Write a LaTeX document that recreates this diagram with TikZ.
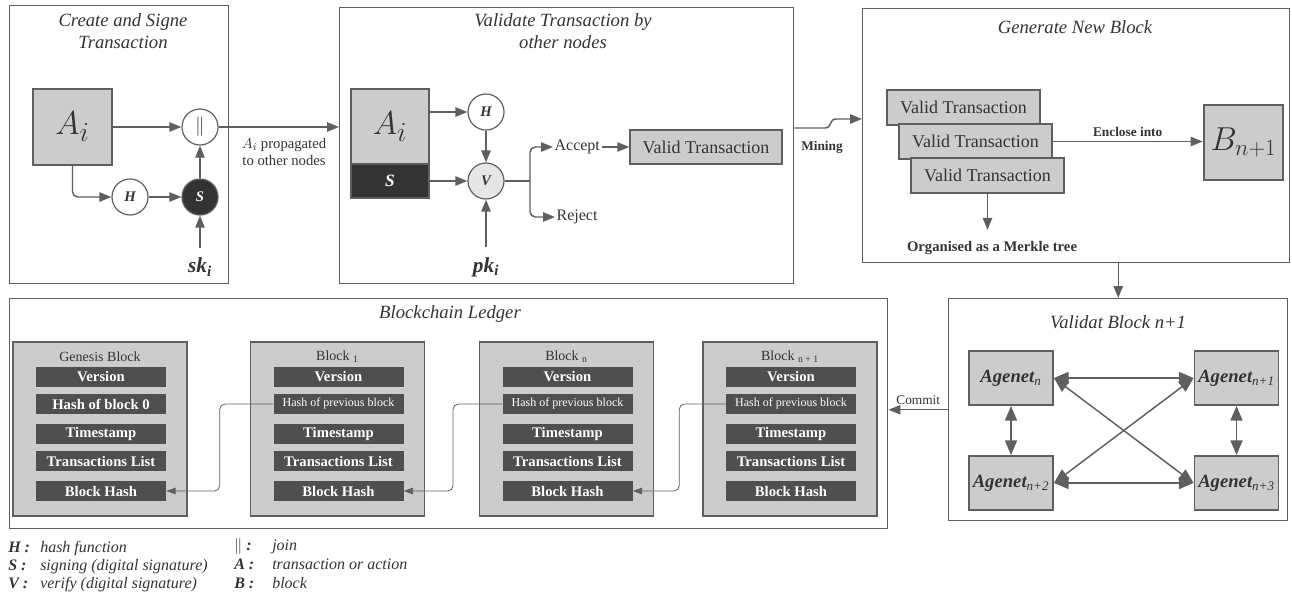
\documentclass[tikz,border=0pt]{standalone}
\usepackage{fontspec}
\setmainfont{Liberation Serif}
\usepackage{tikz}
\usetikzlibrary{calc}
\usetikzlibrary{positioning}
\usetikzlibrary{arrows.meta}

\definecolor{edgegray}{HTML}{5F5F5F}
\definecolor{boxfill}{HTML}{CCCCCC}
\definecolor{fielddark}{HTML}{4F4F4F}
\definecolor{inkdark}{HTML}{333333}
\definecolor{vfill}{HTML}{E6E6E6}

\begin{document}
\begin{tikzpicture}[x=0.75pt, y=-0.75pt,
    panel/.style={rectangle, draw=edgegray, line width=1.1pt, anchor=north west, inner sep=0pt},
    paneltitle/.style={font=\fontsize{14}{16}\selectfont\itshape, text=inkdark, align=center},
    gbox/.style={rectangle, draw=edgegray, fill=boxfill, line width=1.4pt, inner sep=0pt, text=inkdark},
    op/.style={circle, draw=edgegray, fill=white, line width=0.9pt, minimum size=27pt, inner sep=0pt, font=\fontsize{11}{12}\selectfont\bfseries\itshape, text=inkdark},
    arr/.style={draw=edgegray, line width=1.1pt, -{Triangle[length=9pt,width=7pt]}},
    link/.style={draw=edgegray, line width=0.6pt, -{Triangle[length=7pt,width=5pt]}},
    dbl/.style={draw=edgegray, line width=1.1pt, {Triangle[length=11pt,width=9pt]}-{Triangle[length=11pt,width=9pt]}},
    field/.style={rectangle, fill=fielddark, minimum width=97.5pt, minimum height=15pt, inner sep=0pt, text=white, font=\fontsize{11}{11}\selectfont\bfseries},
    agent/.style={gbox, minimum width=63pt, minimum height=40.5pt, font=\fontsize{14}{14}\selectfont\bfseries\itshape},
    vtbox/.style={gbox, line width=1pt, font=\fontsize{13.5}{14}\selectfont},
    lbl/.style={text=inkdark, font=\fontsize{10}{11}\selectfont},
    key/.style={text=inkdark, anchor=base west, inner sep=0pt, font=\fontsize{12}{13}\selectfont\bfseries\itshape},
    keyval/.style={text=inkdark, anchor=base west, inner sep=0pt, font=\fontsize{12}{13}\selectfont\itshape},
  ]
  \useasboundingbox (0,0) rectangle (1292,601);

  % panels
  \node[panel, minimum width=164.25pt, minimum height=208.5pt] (create) at (9,5) {};
  \node[panel, minimum width=340.5pt, minimum height=207pt] (validate) at (339,7) {};
  \node[panel, minimum width=320.25pt, minimum height=190.5pt] (generate) at (862,8) {};
  \node[panel, minimum width=658.5pt, minimum height=172.5pt] (ledger) at (9,298) {};
  \node[panel, minimum width=254.25pt, minimum height=166.5pt] (vblock) at (948,298) {};

  % create and sign
  \node[paneltitle] (createtitle) at (123,31) {Create and Signe\\Transaction};
  \node[gbox, minimum width=59.25pt, minimum height=57pt, font=\fontsize{30}{30}\selectfont] (ai1) at (72.5,127) {$A_i$};
  \node[op, font=\fontsize{15}{15}\selectfont] (join) at (200,127) {$\|$};
  \node[op] (hash1) at (130,197) {H};
  \node[op, fill=inkdark, text=white] (sign1) at (200,197) {S};
  \node[font=\fontsize{16}{16}\selectfont\bfseries\itshape, text=inkdark] (sk) at (200,267) {sk\textsubscript{i}};
  \draw[arr] (ai1) -- (join);
  \draw[arr, rounded corners=4pt] (ai1.south) |- (hash1);
  \draw[arr] (hash1) -- (sign1);
  \draw[arr] (sign1) -- (join);
  \draw[arr] ([yshift=4pt]sk.north) -- (sign1);
  \draw[arr] (join) -- (join -| validate.west);
  \node[lbl, font=\fontsize{11}{12.5}\selectfont, align=center] (prop) at (284,152) {$A_i$ propagated\\to other nodes};

  % validate transaction
  \node[paneltitle] (valtitle) at (563,31) {Validate Transaction by\\other nodes};
  \node[gbox, minimum width=58.5pt, minimum height=56.25pt, font=\fontsize{30}{30}\selectfont] (ai2) at (390,126.5) {$A_i$};
  \node[gbox, fill=inkdark, minimum width=58.5pt, minimum height=25.5pt, text=white, font=\fontsize{13}{13}\selectfont\bfseries\itshape] (sig2) at (390,181) {S};
  \node[op] (hash2) at (486,112) {H};
  \node[op, fill=vfill] (ver2) at (486,181) {V};
  \node[font=\fontsize{16}{16}\selectfont\bfseries\itshape, text=inkdark] (pk) at (486,267) {pk\textsubscript{i}};
  \coordinate (fork) at (530,181);
  \node[lbl, font=\fontsize{12}{13}\selectfont, anchor=west, inner sep=1pt] (acc) at (553,147) {Accept};
  \node[lbl, font=\fontsize{12}{13}\selectfont, anchor=west, inner sep=1pt] (rej) at (555,217) {Reject};
  \node[vtbox, minimum width=114pt, minimum height=25.5pt] (vt) at (706,147) {Valid Transaction};
  \draw[arr] (ai2.east |- hash2) -- (hash2);
  \draw[arr] (sig2) -- (ver2);
  \draw[arr] (hash2) -- (ver2);
  \draw[arr] ([yshift=4pt]pk.north) -- (ver2);
  \draw[edgegray, line width=1.1pt] (ver2) -- (fork);
  \draw[arr, rounded corners=4pt] (fork) |- (acc);
  \draw[arr, rounded corners=4pt] (fork) |- (rej);
  \draw[arr] (acc) -- (vt);

  % mining
  \coordinate (m1) at (825,128);
  \coordinate (m2) at (836,119);
  \draw[arr] (validate.east |- m1) -- (m1) .. controls (832,128) and (829,119) .. (m2) -- (m2 -| generate.west);
  \node[lbl, font=\fontsize{10}{11}\selectfont\bfseries] (mining) at (822,147) {Mining};

  % generate new block
  \node[paneltitle] (gentitle) at (1075,27) {Generate New Block};
  \foreach \k in {0,1,2}
    \node[vtbox, minimum width=114.75pt, minimum height=26.25pt] (vt\k) at (963.5+12*\k, 107.5+34*\k) {Valid Transaction};
  \node[gbox, line width=2pt, minimum width=59.25pt, minimum height=56.25pt, font=\fontsize{27}{27}\selectfont] (bnew) at (1243.5,142.5) {$B_{n+1}$};
  \draw[arr] (vt1.east) -- (vt1.east -| bnew.west) node[midway, above, lbl, font=\fontsize{10}{11}\selectfont\bfseries] {Enclose into};
  \node[lbl, font=\fontsize{11}{12}\selectfont\bfseries] (merkle) at (992,248) {Organised as a Merkle tree};
  \draw[arr] (vt2.south) -- ([yshift=5pt]vt2.south |- merkle.north);
  \draw[arr] (generate.south -| vblock.north) -- (vblock.north);

  % validate block n+1
  \node[paneltitle] (vbtitle) at (1118,322) {Validat Block n+1};
  \node[agent] (ag0) at (1011,378) {Agenet\textsubscript{\mdseries n}};
  \node[agent] (ag1) at (1236.5,378) {Agenet\textsubscript{\mdseries n+1}};
  \node[agent] (ag2) at (1011,483) {Agenet\textsubscript{\mdseries n+2}};
  \node[agent] (ag3) at (1236.5,483) {Agenet\textsubscript{\mdseries n+3}};
  \draw[dbl] (ag0) -- (ag1);
  \draw[dbl] (ag2) -- (ag3);
  \draw[dbl] (ag0) -- (ag2);
  \draw[dbl] (ag1) -- (ag3);
  \draw[dbl] (ag0.east) -- (ag3.west);
  \draw[dbl] (ag2.east) -- (ag1.west);
  \draw[arr] (vblock.west) -- (vblock.west -| ledger.east) node[midway, above, lbl] {Commit};

  % ledger
  \node[paneltitle] (ledgertitle) at (450,314) {Blockchain Ledger};
  \foreach \blk/\cx/\hd/\htxt in {gen/100/Genesis Block/Hash of block 0,
      b1/337.5/Block \textsubscript{1}/{\fontsize{9}{9}\selectfont\mdseries Hash of previous block},
      bn/566.5/Block \textsubscript{n}/{\fontsize{9}{9}\selectfont\mdseries Hash of previous block},
      bnn/790/Block \textsubscript{n + 1}/{\fontsize{9}{9}\selectfont\mdseries Hash of previous block}}
  {
    \node[gbox, minimum width=130.5pt, minimum height=130.5pt] (\blk) at (\cx,429) {};
    \node[lbl, font=\fontsize{10.5}{11}\selectfont] (\blk-head) at (\cx,357) {\hd};
    \foreach \f/\fy/\ftxt in {ver/377/Version, ts/434/Timestamp, tl/461/Transactions List, bh/491/Block Hash}
      \node[field] (\blk-\f) at (\cx+1,\fy) {\ftxt};
    \node[field] (\blk-ph) at (\cx+1,404) {\htxt};
  }
  \draw[link, rounded corners=4pt] (b1-ph.west) -| ($(b1-ph.west)!.5!(gen-bh.east)$) |- (gen-bh.east);
  \draw[link, rounded corners=4pt] (bn-ph.west) -| ($(bn-ph.west)!.5!(b1-bh.east)$) |- (b1-bh.east);
  \draw[link, rounded corners=4pt] (bnn-ph.west) -| ($(bnn-ph.west)!.5!(bn-bh.east)$) |- (bn-bh.east);

  % legend
  \foreach \k/\v [count=\i] in {H/hash function, S/signing (digital signature), V/verify (digital signature)}
  {
    \node[key] (lkey\i) at (8,552+18*\i-18) {\k\ :};
    \node[keyval] (lval\i) at (40,552+18*\i-18) {\v};
  }
  \foreach \k/\v [count=\i] in {$\|$/join, A/transaction or action, B/block}
  {
    \node[key] (rkey\i) at (234,550+19*\i-19) {\k\ :};
    \node[keyval] (rval\i) at (272,550+19*\i-19) {\v};
  }
\end{tikzpicture}
\end{document}
